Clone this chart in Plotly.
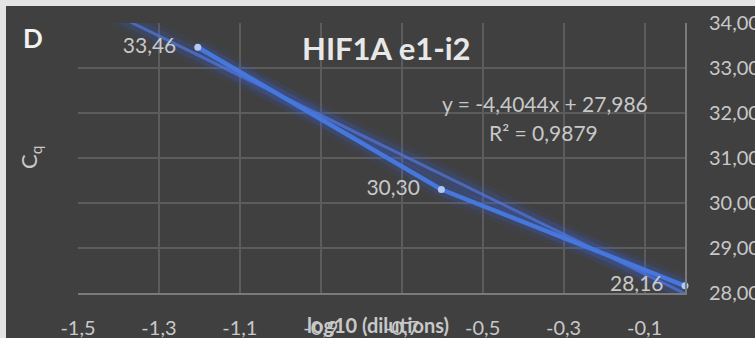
import plotly.graph_objects as go

# data
x_vals = [-1.204, -0.602, 0.0]
cq_vals = [33.46, 30.30, 28.16]
point_labels = ["33,46", "30,30", "28,16"]
trend_slope = -4.4044
trend_intercept = 27.986
trend_x = [-1.5, 0.0]
x_ticks = [-1.5, -1.3, -1.1, -0.9, -0.7, -0.5, -0.3, -0.1]
x_ticktext = ["-1,5", "-1,3", "-1,1", "-0,9", "-0,7", "-0,5", "-0,3", "-0,1"]
y_ticks = [28, 29, 30, 31, 32, 33, 34]
y_ticktext = ["28,00", "29,00", "30,00", "31,00", "32,00", "33,00", "34,00"]

FONT = "Lato, 'Open Sans', sans-serif"
TXT = "#c8c8c8"
BG = "#404040"
FRAME = "#e4e4e4"

trend_y = [trend_slope * v + trend_intercept for v in trend_x]
padded_labels = [t + "\u00a0\u00a0\u00a0" for t in point_labels]

fig = go.Figure()
# glow layers
for w, a in [(22, 0.07), (13, 0.15)]:
    fig.add_trace(go.Scatter(x=trend_x, y=trend_y, mode="lines",
                             line=dict(color=f"rgba(60,100,230,{a})", width=w),
                             hoverinfo="skip", showlegend=False))
    fig.add_trace(go.Scatter(x=x_vals, y=cq_vals, mode="lines",
                             line=dict(color=f"rgba(60,100,230,{a})", width=w),
                             hoverinfo="skip", showlegend=False))
fig.add_trace(go.Scatter(x=trend_x, y=trend_y, mode="lines",
                         line=dict(color="rgba(80,120,225,0.7)", width=3),
                         showlegend=False))
fig.add_trace(go.Scatter(x=x_vals, y=cq_vals, mode="lines+markers+text",
                         line=dict(color="#4677dc", width=4.5),
                         marker=dict(color="#b4c9f2", size=7),
                         text=padded_labels, textposition="middle left",
                         textfont=dict(family=FONT, size=21, color=TXT),
                         cliponaxis=False, showlegend=False))

def px_x(p):
    return (p - 78) / 607

def px_y(p):
    return (293 - p) / 270

annos = [
    dict(text="<b>D</b>", x=px_x(33), y=px_y(38), font=dict(size=26, color="#f2f2f2")),
    dict(text="<b>HIF1A e1-i2</b>", x=px_x(386), y=px_y(48), font=dict(size=31, color="#e8e8e8")),
    dict(text="y = -4,4044x + 27,986", x=px_x(545), y=px_y(103), font=dict(size=21, color=TXT)),
    dict(text="R² = 0,9879", x=px_x(543), y=px_y(132), font=dict(size=21, color=TXT)),
    dict(text="C<sub>q</sub>", x=px_x(30), y=px_y(158), textangle=-90, font=dict(size=22, color=TXT)),
    dict(text="<b>log10 (dilutions)</b>", x=px_x(378), y=px_y(325), font=dict(size=20, color=TXT)),
]
for a in annos:
    a.update(xref="paper", yref="paper", showarrow=False, xanchor="center", yanchor="middle")
    a["font"]["family"] = FONT
    fig.add_annotation(**a)

# dark chart panel over a light frame (frame visible at top and left edges)
fig.add_shape(type="rect", xref="paper", yref="paper",
              x0=px_x(6), x1=px_x(760), y0=px_y(345), y1=px_y(6),
              fillcolor=BG, line=dict(width=0), layer="below")

fig.update_layout(
    width=755, height=338,
    margin=dict(l=78, r=70, t=23, b=45, autoexpand=False),
    paper_bgcolor=FRAME, plot_bgcolor=BG,
    font=dict(family=FONT, color=TXT, size=20),
    xaxis=dict(range=[-1.5, 0], tickvals=x_ticks, ticktext=x_ticktext, automargin=False,
               showgrid=True, gridcolor="#5c5c5c", gridwidth=1.5,
               zeroline=False, showline=True, linecolor="#7a7a7a", linewidth=2,
               ticks="", ticklabelstandoff=16, tickfont=dict(size=20, color=TXT)),
    yaxis=dict(range=[28, 34], tickvals=y_ticks, ticktext=y_ticktext, side="right", automargin=False,
               showgrid=True, gridcolor="#5c5c5c", gridwidth=1.5,
               zeroline=False, showline=True, linecolor="#7a7a7a", linewidth=2,
               ticks="", ticklabelstandoff=18, tickfont=dict(size=20, color=TXT)),
)

post = (
    "document.body.style.margin='0';document.body.style.padding='0';"
    "document.body.style.overflow='hidden';"
)
fig.write_html("out.html", post_script=post, config={"displayModeBar": False})
